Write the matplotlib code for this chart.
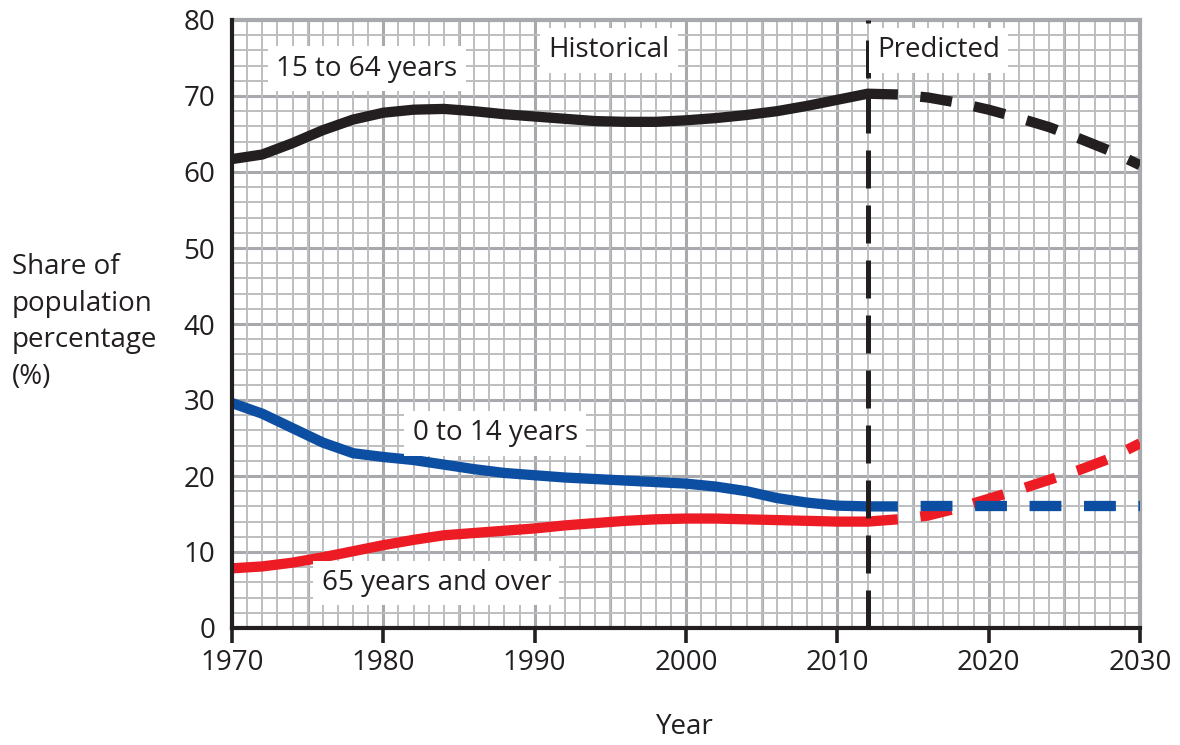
import numpy as np
import matplotlib
matplotlib.use("Agg")
import matplotlib.pyplot as plt
from matplotlib.ticker import MultipleLocator

plt.rcParams["font.family"] = ["Open Sans", "DejaVu Sans"]

# historical readings (1970-2014)
hist_years = [1970, 1972, 1974, 1976, 1978, 1980, 1982, 1984, 1986, 1988, 1990,
              1992, 1994, 1996, 1998, 2000, 2002, 2004, 2006, 2008, 2010, 2012, 2014]
hist_15_64 = [61.7, 62.3, 63.8, 65.5, 66.9, 67.8, 68.2, 68.3, 68.0, 67.6, 67.3,
              67.0, 66.7, 66.6, 66.6, 66.8, 67.1, 67.5, 68.0, 68.7, 69.5, 70.3, 70.2]
hist_0_14 = [29.6, 28.2, 26.3, 24.4, 23.0, 22.5, 22.1, 21.5, 20.9, 20.4, 20.1,
             19.8, 19.6, 19.4, 19.2, 19.0, 18.6, 18.0, 17.1, 16.5, 16.1, 16.0, 16.0]
hist_65 = [7.85, 8.1, 8.6, 9.3, 10.1, 10.9, 11.6, 12.2, 12.5, 12.8, 13.1,
           13.5, 13.8, 14.1, 14.3, 14.4, 14.4, 14.3, 14.2, 14.1, 14.0, 14.0, 14.3]

# predicted readings (2014-2030)
pred_years = [2014, 2016, 2018, 2020, 2022, 2024, 2026, 2028, 2030]
pred_15_64 = [70.2, 69.8, 69.1, 68.2, 67.1, 65.9, 64.4, 62.8, 60.9]
pred_0_14 = [16.0, 16.0, 16.0, 16.0, 16.0, 16.0, 16.0, 16.0, 16.0]
pred_65 = [14.3, 14.8, 15.8, 17.0, 18.2, 19.5, 20.8, 22.3, 24.3]

split_year = 2012

BLACK = "#231f20"
BLUE = "#0b4ea2"
RED = "#ed1c24"
GRID_MAJOR = "#a7a9ac"
GRID_MINOR = "#bcbec0"

fig = plt.figure(figsize=(11.8, 7.45), dpi=100)
ax = fig.add_axes([232 / 1180, 1 - 628 / 745, (1140 - 232) / 1180, (628 - 20) / 745])

ax.set_xlim(1970, 2030)
ax.set_ylim(0, 80)

# graph paper grid
ax.xaxis.set_minor_locator(MultipleLocator(1))
ax.yaxis.set_minor_locator(MultipleLocator(2))
ax.grid(which="minor", color=GRID_MINOR, lw=1.4, zorder=0)
for gx in np.arange(1975, 2030, 5):
    ax.axvline(gx, color=GRID_MAJOR, lw=2.2, zorder=0.5)
for gy in np.arange(10, 80, 10):
    ax.axhline(gy, color=GRID_MAJOR, lw=2.2, zorder=0.5)
ax.set_axisbelow(True)

lw = 7.4
dstyle = (3.1, (3.1, 2.2))  # offset, (on, off)

ax.plot(hist_years, hist_15_64, color=BLACK, lw=lw, solid_capstyle="butt", zorder=3)
ax.plot(pred_years, pred_15_64, color=BLACK, lw=lw, ls=dstyle, zorder=3)
ax.plot(hist_years, hist_0_14, color=BLUE, lw=lw, solid_capstyle="butt", zorder=3)
ax.plot(pred_years, pred_0_14, color=BLUE, lw=lw, ls=dstyle, zorder=3)
ax.plot(hist_years, hist_65, color=RED, lw=lw, solid_capstyle="butt", zorder=3)
ax.plot(pred_years, pred_65, color=RED, lw=lw, ls=dstyle, zorder=2.9)

ax.axvline(split_year, color=BLACK, lw=3.6, ls=(0, (7.6, 3.4)), zorder=4)

box = dict(boxstyle="square,pad=0.3", fc="white", ec="none")
tkw = dict(fontsize=20, color=BLACK, ha="center", va="center", bbox=box, zorder=5)
ax.text(1978.9, 73.6, "15 to 64 years", **tkw)
ax.text(1994.9, 76.0, "Historical", **tkw)
ax.text(2016.7, 76.0, "Predicted", **tkw)
ax.text(1987.4, 25.6, "0 to 14 years", **tkw)
ax.text(1983.5, 5.9, "65 years and over", **tkw)

ax.set_xticks(np.arange(1970, 2031, 10))
ax.set_yticks(np.arange(0, 81, 10))
ax.tick_params(axis="x", which="major", direction="out", length=11, width=2.6,
               color=BLACK, labelsize=20, labelcolor=BLACK, pad=4)
ax.tick_params(axis="y", which="major", length=0, labelsize=20, labelcolor=BLACK, pad=12)
ax.tick_params(which="minor", length=0)

for side in ["left", "bottom"]:
    ax.spines[side].set_color(BLACK)
    ax.spines[side].set_linewidth(3)
    ax.spines[side].set_zorder(6)
for side in ["top", "right"]:
    ax.spines[side].set_color(GRID_MAJOR)
    ax.spines[side].set_linewidth(3)

fig.text(12 / 1180, 1 - 322 / 745, "Share of\npopulation\npercentage\n(%)",
         fontsize=20, color=BLACK, ha="left", va="center", linespacing=1.42)
fig.text(685 / 1180, 1 - 727 / 745, "Year", fontsize=20, color=BLACK,
         ha="center", va="center")

fig.savefig("out.png", dpi=100)
